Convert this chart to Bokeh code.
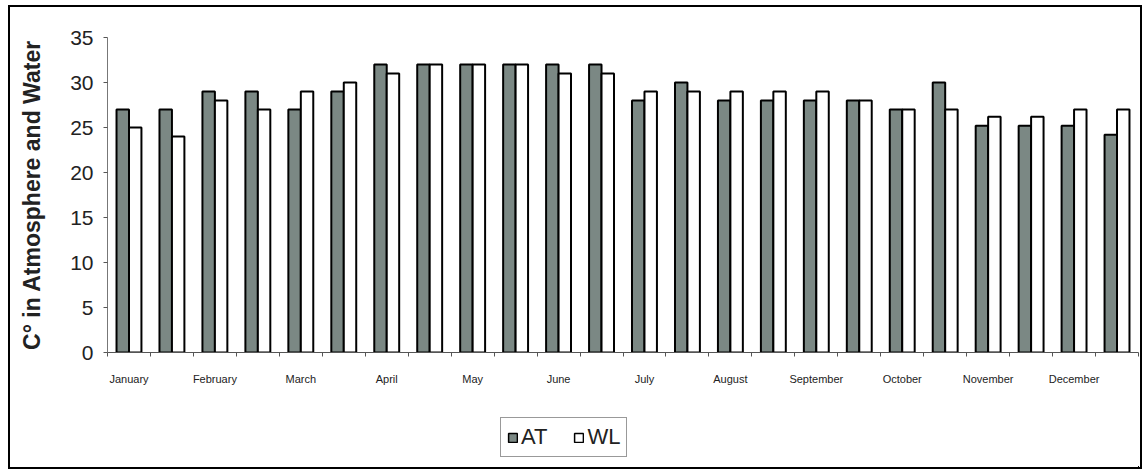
from bokeh.plotting import figure
from bokeh.layouts import column
from bokeh.models import FixedTicker, Legend, LegendItem, Range1d, ColumnDataSource
from bokeh.embed import file_html
from bokeh.resources import INLINE

months = ["January", "February", "March", "April", "May", "June",
          "July", "August", "September", "October", "November", "December"]
at_values = [27, 27, 29, 29, 27, 29, 32, 32, 32, 32, 32, 32,
             28, 30, 28, 28, 28, 28, 27, 30, 25.2, 25.2, 25.2, 24.2]
wl_values = [25, 24, 28, 27, 29, 30, 31, 32, 32, 32, 31, 31,
             29, 29, 29, 29, 29, 28, 27, 27, 26.2, 26.2, 27, 27]
y_ticks = [0, 5, 10, 15, 20, 25, 30, 35]
series_names = ["AT", "WL"]

AT_COLOR = "#7b8884"
n = len(at_values)
bar_w = 0.29
idx = list(range(n))
src = ColumnDataSource(dict(
    x_at=[i + 0.5 - bar_w / 2 for i in idx],
    x_wl=[i + 0.5 + bar_w / 2 for i in idx],
    at=at_values, wl=wl_values))

p = figure(width=1130, height=385, output_backend="svg", toolbar_location=None,
           x_range=Range1d(0, n), y_range=Range1d(0, 35),
           min_border_left=97, min_border_top=30, min_border_right=2,
           min_border_bottom=40)
p.outline_line_color = None
p.xgrid.visible = False
p.ygrid.visible = False
p.background_fill_color = "white"
p.border_fill_color = "white"

p.vbar(x="x_at", top="at", width=bar_w, source=src,
       fill_color=AT_COLOR, line_color="black", line_width=2)
p.vbar(x="x_wl", top="wl", width=bar_w, source=src,
       fill_color="white", line_color="black", line_width=2)

# x axis: month labels under the first bar pair of each month, ticks at pair boundaries
label_pos = [2 * m + 0.5 for m in range(len(months))]
p.xaxis.ticker = FixedTicker(ticks=label_pos, minor_ticks=list(range(n + 1)))
p.xaxis.major_label_overrides = {pos: months[m] for m, pos in enumerate(label_pos)}
p.xaxis.major_tick_in = 0
p.xaxis.major_tick_out = 0
p.xaxis.minor_tick_in = 0
p.xaxis.minor_tick_out = 4
p.xaxis.minor_tick_line_color = "#555555"
p.xaxis.axis_line_color = "#555555"
p.xaxis.major_label_text_font = "Liberation Sans"
p.xaxis.major_label_text_font_size = "11px"
p.xaxis.major_label_text_color = "#222222"
p.xaxis.major_label_standoff = 16

p.yaxis.ticker = FixedTicker(ticks=y_ticks, minor_ticks=[])
p.yaxis.major_tick_in = 0
p.yaxis.major_tick_out = 4
p.yaxis.major_tick_line_color = "#555555"
p.yaxis.axis_line_color = "#777777"
p.yaxis.major_label_text_font = "Liberation Sans"
p.yaxis.major_label_text_font_size = "21px"
p.yaxis.major_label_text_color = "#222222"
p.yaxis.major_label_standoff = 10
p.yaxis.axis_label = "C° in Atmosphere and Water"
p.yaxis.axis_label_text_font = "Liberation Sans"
p.yaxis.axis_label_text_font_style = "bold"
p.yaxis.axis_label_text_font_size = "23px"
p.yaxis.axis_label_text_color = "#222222"
p.yaxis.axis_label_standoff = 22

# legend strip below the chart (its renderers share the data but lie outside its view)
lg = figure(width=1130, height=75, output_backend="svg", toolbar_location=None,
            x_axis_location=None, y_axis_location=None,
            x_range=Range1d(-200, -100), y_range=Range1d(100, 200),
            min_border_left=0, min_border_right=0, min_border_top=0, min_border_bottom=0)
lg.outline_line_color = None
lg.xgrid.visible = False
lg.ygrid.visible = False
lg.border_fill_color = "white"
r_at = lg.vbar(x="x_at", top="at", width=bar_w, source=src,
               fill_color=AT_COLOR, line_color="black", line_width=1.5)
r_wl = lg.vbar(x="x_wl", top="wl", width=bar_w, source=src,
               fill_color="white", line_color="black", line_width=1.5)
legend = Legend(items=[LegendItem(label=series_names[0], renderers=[r_at]),
                       LegendItem(label=series_names[1], renderers=[r_wl])],
                orientation="horizontal", location=(393, 10),
                label_text_font="Liberation Sans", label_text_font_size="22px",
                label_text_color="#222222",
                glyph_width=11, glyph_height=11, label_standoff=3, spacing=26,
                padding=6, margin=0, border_line_color="#333333",
                border_line_width=1, background_fill_color="white")
lg.add_layout(legend, "center")

page = column(p, lg, spacing=0,
              styles={"border": "2px solid black", "margin-left": "8px",
                      "margin-top": "5px", "background-color": "white"})

open("out.html", "w").write(file_html(page, INLINE))
